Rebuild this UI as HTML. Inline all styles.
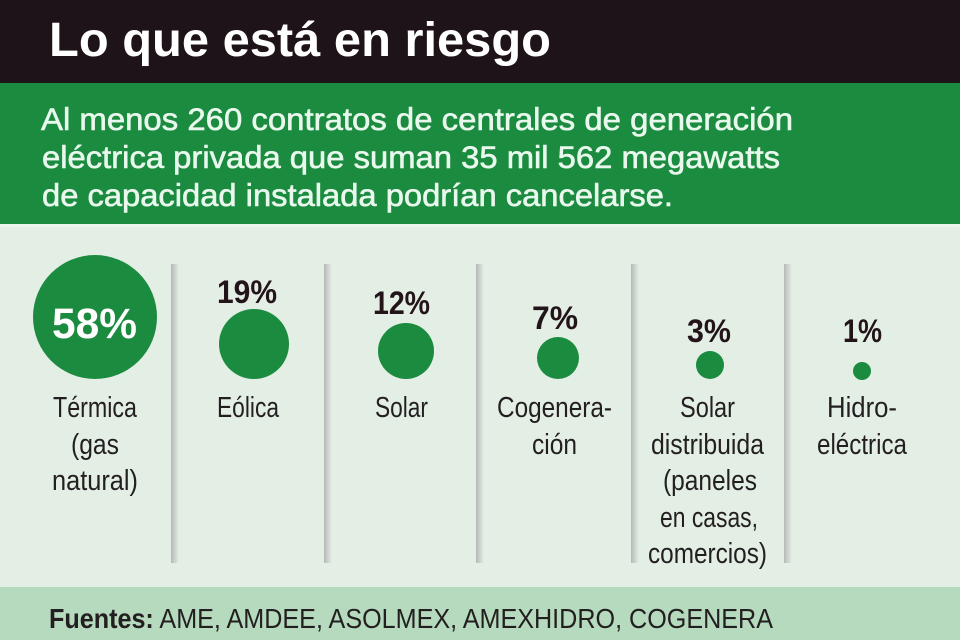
<!DOCTYPE html>
<html><head><meta charset="utf-8"><style>
html,body{margin:0;padding:0;background:#e3eee5;}
svg{display:block;}
</style></head><body>
<svg width="960" height="640" viewBox="0 0 960 640" xmlns="http://www.w3.org/2000/svg">
<defs>
<linearGradient id="dv" x1="0" x2="1" y1="0" y2="0">
<stop offset="0" stop-color="#b4b9b6"/>
<stop offset="0.5" stop-color="#cdd3cf"/>
<stop offset="1" stop-color="#e3eee5"/>
</linearGradient>
</defs>
<rect x="0" y="0" width="960" height="640" fill="#e3eee5"/>
<rect x="0" y="0" width="960" height="83" fill="#1f131a"/>
<rect x="0" y="83" width="960" height="141" fill="#1b8b3f"/>
<rect x="0" y="224" width="960" height="3" fill="#eaf6ec"/>
<rect x="0" y="587" width="960" height="53" fill="#b5dabd"/>

<g font-family="Liberation Sans, sans-serif">
<text x="49" y="56" font-size="48" font-weight="bold" fill="#ffffff" textLength="502" lengthAdjust="spacingAndGlyphs">Lo que está en riesgo</text>

<g fill="#e9f8ed" font-size="31.5" stroke="#e9f8ed" stroke-width="0.6">
<text x="41" y="130" textLength="752" lengthAdjust="spacingAndGlyphs">Al menos 260 contratos de centrales de generación</text>
<text x="42" y="168" textLength="738" lengthAdjust="spacingAndGlyphs">eléctrica privada que suman 35 mil 562 megawatts</text>
<text x="42" y="206" textLength="631" lengthAdjust="spacingAndGlyphs">de capacidad instalada podrían cancelarse.</text>
</g>

<!-- dividers -->
<rect x="171" y="264" width="8" height="299" fill="url(#dv)"/>
<rect x="324" y="264" width="8" height="299" fill="url(#dv)"/>
<rect x="476" y="264" width="8" height="299" fill="url(#dv)"/>
<rect x="631" y="264" width="8" height="299" fill="url(#dv)"/>
<rect x="784" y="264" width="8" height="299" fill="url(#dv)"/>

<!-- circles -->
<g fill="#1b8b3f">
<circle cx="95" cy="317" r="62"/>
<circle cx="254" cy="344" r="35"/>
<circle cx="406" cy="351" r="28"/>
<circle cx="558" cy="358" r="21"/>
<circle cx="710" cy="365" r="14"/>
<circle cx="862" cy="371" r="9"/>
</g>

<text x="52" y="338" font-size="43" font-weight="bold" fill="#ffffff" textLength="85" lengthAdjust="spacingAndGlyphs">58%</text>

<g font-size="32" font-weight="bold" fill="#231419">
<text x="217" y="303" textLength="60" lengthAdjust="spacingAndGlyphs">19%</text>
<text x="373" y="314" textLength="57" lengthAdjust="spacingAndGlyphs">12%</text>
<text x="532" y="329" textLength="46" lengthAdjust="spacingAndGlyphs">7%</text>
<text x="687" y="342" textLength="44" lengthAdjust="spacingAndGlyphs">3%</text>
<text x="843" y="342" textLength="39" lengthAdjust="spacingAndGlyphs">1%</text>
</g>

<g font-size="29" fill="#231f20">
<text x="53" y="417" textLength="84" lengthAdjust="spacingAndGlyphs">Térmica</text>
<text x="71" y="454" textLength="48" lengthAdjust="spacingAndGlyphs">(gas</text>
<text x="52" y="490" textLength="86" lengthAdjust="spacingAndGlyphs">natural)</text>

<text x="217" y="417" textLength="62" lengthAdjust="spacingAndGlyphs">Eólica</text>
<text x="375" y="417" textLength="53" lengthAdjust="spacingAndGlyphs">Solar</text>

<text x="497" y="417" textLength="115" lengthAdjust="spacingAndGlyphs">Cogenera-</text>
<text x="532" y="454" textLength="45" lengthAdjust="spacingAndGlyphs">ción</text>

<text x="680" y="417" textLength="55" lengthAdjust="spacingAndGlyphs">Solar</text>
<text x="651" y="454" textLength="113" lengthAdjust="spacingAndGlyphs">distribuida</text>
<text x="663" y="490" textLength="94" lengthAdjust="spacingAndGlyphs">(paneles</text>
<text x="660" y="527" textLength="98" lengthAdjust="spacingAndGlyphs">en casas,</text>
<text x="648" y="563" textLength="119" lengthAdjust="spacingAndGlyphs">comercios)</text>

<text x="827" y="417" textLength="70" lengthAdjust="spacingAndGlyphs">Hidro-</text>
<text x="817" y="454" textLength="90" lengthAdjust="spacingAndGlyphs">eléctrica</text>
</g>

<text x="49" y="628" font-size="28" fill="#231f20" textLength="724" lengthAdjust="spacingAndGlyphs"><tspan font-weight="bold">Fuentes:</tspan> AME, AMDEE, ASOLMEX, AMEXHIDRO, COGENERA</text>
</g>
</svg>
</body></html>
